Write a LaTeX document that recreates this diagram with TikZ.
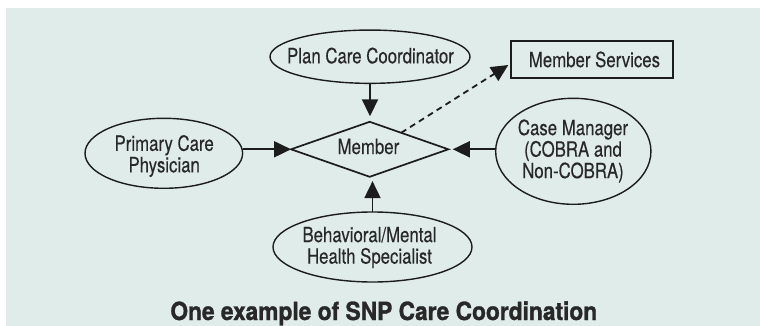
\documentclass[tikz,border=0pt]{standalone}
\usepackage{fontspec}
\setmainfont{TeX Gyre Heros}[FakeStretch=0.8,FakeBold=0.3]
\newfontfamily\titlefont{TeX Gyre Heros}[FakeStretch=0.91,BoldFeatures={FakeBold=1.2}]
\usetikzlibrary{shapes.geometric,arrows.meta,calc}
\definecolor{panel}{RGB}{224,236,234}
\definecolor{ink}{RGB}{40,40,40}
\definecolor{rule}{RGB}{28,28,28}

\begin{document}
\begin{tikzpicture}[x=1pt,y=-1pt,
  every node/.style={inner sep=0pt,outer sep=0pt},
  oval/.style={ellipse,draw=rule,line width=1.4pt},
  lbl/.style={text=ink,font=\fontsize{21}{21.5}\selectfont,align=center},
  link/.style={draw=rule,line width=1.8pt,-{Triangle[length=17pt,width=16pt]}},
]
% page and tinted panel
\fill[white] (0,0) rectangle (760,326);
\useasboundingbox (0,0) rectangle (760,326);
\fill[panel] (6,8) rectangle (760,326);

% shapes
\node[oval,minimum width=200pt,minimum height=53.3pt] (pcc) at (370,56.7) {};
\node[oval,minimum width=157.6pt,minimum height=70pt] (pcp) at (163.8,153.3) {};
\node[diamond,draw=rule,line width=1.7pt,shape aspect=2.86,
      minimum width=157.3pt,minimum height=55pt] (member) at (369.7,149.3) {};
\node[oval,minimum width=155.3pt,minimum height=106pt] (cm) at (573.3,151.3) {};
\node[oval,minimum width=199pt,minimum height=70pt] (bh) at (372.5,247) {};
\node[draw=rule,line width=1.6pt,minimum width=162pt,minimum height=37pt,
      text=ink,font=\fontsize{21}{21.5}\selectfont] (ms) at (592,59.5) {\hspace{5pt}Member Services};

% texts
\node[lbl,anchor=base] (pcc-t) at (370.5,63.3) {Plan Care Coordinator};
\node[lbl] (pcp-t) at (164.2,156) {Primary Care\\Physician};
\node[lbl,anchor=base] (member-t) at (368.4,154) {Member};
\node[lbl] (cm-t) at (573,151) {Case Manager\\(COBRA and\\Non-COBRA)};
\node[lbl] (bh-t) at (369.5,247.5) {Behavioral/Mental\\Health Specialist};

% connectors
\draw[link,shorten >=5.5pt] (pcc.south) -- (pcc.south |- member.north);
\draw[link] (pcp.east |- member.west) -- (member.west);
\draw[link,shorten >=4.4pt] (cm.west |- member.east) -- (member.east);
\draw[link,shorten >=4.3pt] (bh.north) -- (bh.north |- member.south);
\coordinate (dash-from) at ($(member.north)!0.4!(member.east)$);
\coordinate (dash-to) at ($(ms.west)+(-2.7,5.5)$);
\draw[link,dash pattern=on 6pt off 4.5pt] (dash-from) -- (dash-to);

% caption
\node[anchor=base,text=ink,font=\titlefont\bfseries\fontsize{25}{28}\selectfont]
  (title) at (383.8,320) {One example of SNP Care Coordination};
\end{tikzpicture}
\end{document}
